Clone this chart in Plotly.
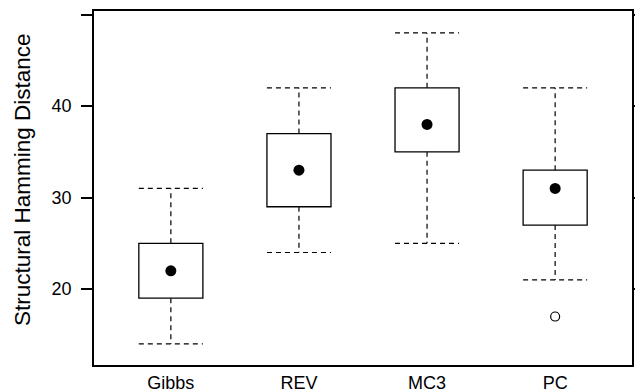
import plotly.graph_objects as go

categories = ["Gibbs", "REV", "MC3", "PC"]
q1 = [19, 29, 35, 27]
median = [22, 33, 38, 31]
q3 = [25, 37, 42, 33]
whisker_low = [14, 24, 25, 21]
whisker_high = [31, 42, 48, 42]
outlier_cat = ["PC"]
outlier_val = [17]
y_tick_vals = [20, 30, 40, 50]
y_tick_text = ["20", "30", "40", ""]
y_title = "Structural Hamming Distance"

pos = {c: i + 1 for i, c in enumerate(categories)}
xs = [pos[c] for c in categories]
half = 0.25

fig = go.Figure()

# boxes
fig.add_trace(go.Bar(
    x=xs, y=[b - a for a, b in zip(q1, q3)], base=q1, width=2 * half,
    marker=dict(color="white", line=dict(color="black", width=1.3)),
    showlegend=False, hoverinfo="skip"))

dash = "5px,4px"
for i, c in enumerate(categories):
    x = xs[i]
    fig.add_trace(go.Scatter(x=[x, x], y=[q3[i], whisker_high[i]], mode="lines",
                             line=dict(color="black", width=1.2, dash=dash), showlegend=False, hoverinfo="skip"))
    fig.add_trace(go.Scatter(x=[x - half, x + half], y=[whisker_high[i], whisker_high[i]], mode="lines",
                             line=dict(color="black", width=1.2, dash=dash), showlegend=False, hoverinfo="skip"))
    fig.add_trace(go.Scatter(x=[x, x], y=[q1[i], whisker_low[i]], mode="lines",
                             line=dict(color="black", width=1.2, dash=dash), showlegend=False, hoverinfo="skip"))
    fig.add_trace(go.Scatter(x=[x - half, x + half], y=[whisker_low[i], whisker_low[i]], mode="lines",
                             line=dict(color="black", width=1.2, dash=dash), showlegend=False, hoverinfo="skip"))

# medians
fig.add_trace(go.Scatter(x=xs, y=median, mode="markers",
                         marker=dict(color="black", size=11), showlegend=False))
# outliers
fig.add_trace(go.Scatter(x=[pos[c] for c in outlier_cat], y=outlier_val, mode="markers",
                         marker=dict(color="white", size=9, line=dict(color="black", width=1.2)),
                         showlegend=False))

font = "Liberation Sans, Arial, sans-serif"
fig.update_layout(
    width=635, height=392,
    margin=dict(l=94, r=3, t=11, b=27),
    paper_bgcolor="white", plot_bgcolor="white",
    font=dict(family=font, size=18, color="black"),
    xaxis=dict(range=[0.4, 4.6], tickvals=xs, ticktext=categories, ticks="",
               showline=True, linecolor="black", linewidth=1.5, mirror=True,
               showgrid=False, zeroline=False, automargin=False,
               ticklabelstandoff=1, tickfont=dict(size=18)),
    yaxis=dict(range=[11.7, 50.4], tickvals=y_tick_vals, ticktext=y_tick_text,
               ticks="outside", ticklen=11, tickwidth=1.5, tickcolor="black",
               showline=True, linecolor="black", linewidth=1.5, mirror="allticks",
               showgrid=False, zeroline=False, automargin=False,
               ticklabelstandoff=6, tickfont=dict(size=18)),
    annotations=[dict(text=y_title, xref="paper", yref="paper",
                      x=-0.134, y=0.525, xanchor="center", yanchor="middle",
                      textangle=-90, showarrow=False, font=dict(size=22.5))],
)

fig.write_html("out.html")
